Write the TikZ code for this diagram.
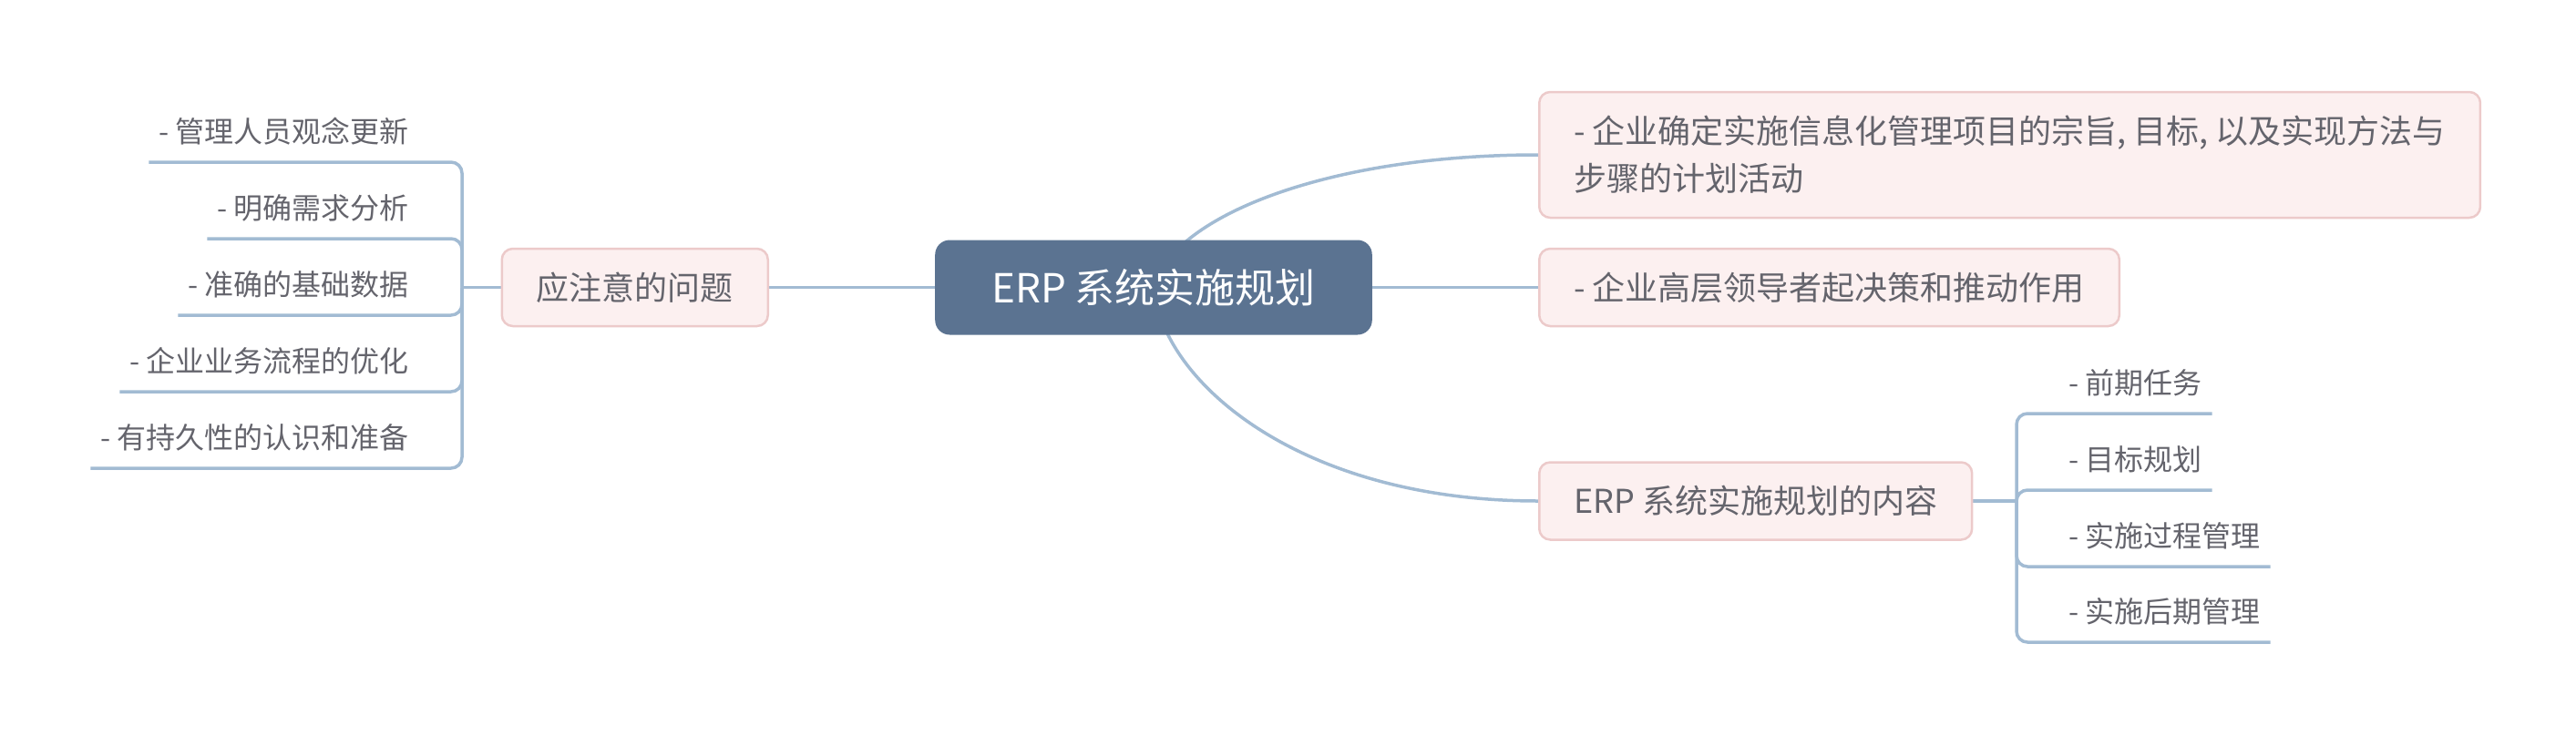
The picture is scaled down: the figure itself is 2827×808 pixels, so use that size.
\documentclass[tikz,border=0pt]{standalone}
\usepackage{fontspec}
\setmainfont{Noto Sans CJK SC}
\usepackage{tikz}
\usetikzlibrary{backgrounds}

\definecolor{linkblue}{RGB}{162,187,211}
\definecolor{rootfill}{RGB}{91,115,145}
\definecolor{topicfill}{RGB}{252,240,240}
\definecolor{topicline}{RGB}{236,202,202}
\definecolor{textgray}{RGB}{100,100,108}

\begin{document}
\begin{tikzpicture}[x=1pt, y=-1pt,
    root/.style={rounded corners=16pt, fill=rootfill, text=white,
        font=\fontsize{44}{52}\selectfont, inner xsep=62pt, inner ysep=0pt, minimum height=104pt},
    topic/.style={rounded corners=12pt, draw=topicline, fill=topicfill, line width=2.5pt,
        text=textgray, font=\fontsize{36}{52}\selectfont, inner xsep=38pt, inner ysep=0pt,
        minimum height=85pt, align=left},
    leaf/.style={text=textgray, font=\fontsize{32}{36}\selectfont, inner xsep=11pt,
        inner ysep=17pt, text height=26pt, text depth=4pt},
    link/.style={draw=linkblue, line width=3.5pt},
    fork/.style={link, rounded corners=12pt}]
    \useasboundingbox (0,0) rectangle (2827,808);

    % Central topic
    \node[root] (erp) at (1266,315.5) {ERP 系统实施规划};

    % Right topics
    \node[topic, anchor=west, minimum height=138pt] (aim) at (1688,170)
        {- 企业确定实施信息化管理项目的宗旨, 目标, 以及实现方法与\\步骤的计划活动};
    \node[topic, anchor=west] (lead) at (1688,315.5) {- 企业高层领导者起决策和推动作用};
    \node[topic, anchor=west] (content) at (1688,550) {ERP 系统实施规划的内容};

    % Left topic
    \node[topic, anchor=east] (issue) at (844,315.5) {应注意的问题};

    % Content items
    \coordinate (cj) at (2213,550);
    \node[leaf, anchor=south west] (c1) at (2259,454) {- 前期任务};
    \node[leaf, anchor=south west] (c2) at (2259,538) {- 目标规划};
    \node[leaf, anchor=south west] (c3) at (2259,622) {- 实施过程管理};
    \node[leaf, anchor=south west] (c4) at (2259,705) {- 实施后期管理};

    % Issue items
    \coordinate (ij) at (507,315.5);
    \node[leaf, anchor=south east] (i1) at (460,178) {- 管理人员观念更新};
    \node[leaf, anchor=south east] (i2) at (460,262) {- 明确需求分析};
    \node[leaf, anchor=south east] (i3) at (460,346) {- 准确的基础数据};
    \node[leaf, anchor=south east] (i4) at (460,430) {- 企业业务流程的优化};
    \node[leaf, anchor=south east] (i5) at (460,514) {- 有持久性的认识和准备};

    % Connectors
    \begin{scope}[on background layer]
        \draw[link] (erp.center) .. controls +(19,-75) and +(-238,0) .. (aim.west);
        \draw[link] (erp) -- (lead);
        \draw[link] (erp.center) .. controls +(10,105) and +(-260,0) .. (content.west);
        \draw[link] (erp) -- (issue);
        \draw[link] (content) -- (cj);
        \draw[link] (issue) -- (ij);
        \foreach \n in {c1,c2,c3,c4}
            \draw[fork] (cj) |- (\n.south east);
        \foreach \n in {i1,i2,i3,i4,i5}
            \draw[fork] (ij) |- (\n.south west);
    \end{scope}
\end{tikzpicture}
\end{document}
